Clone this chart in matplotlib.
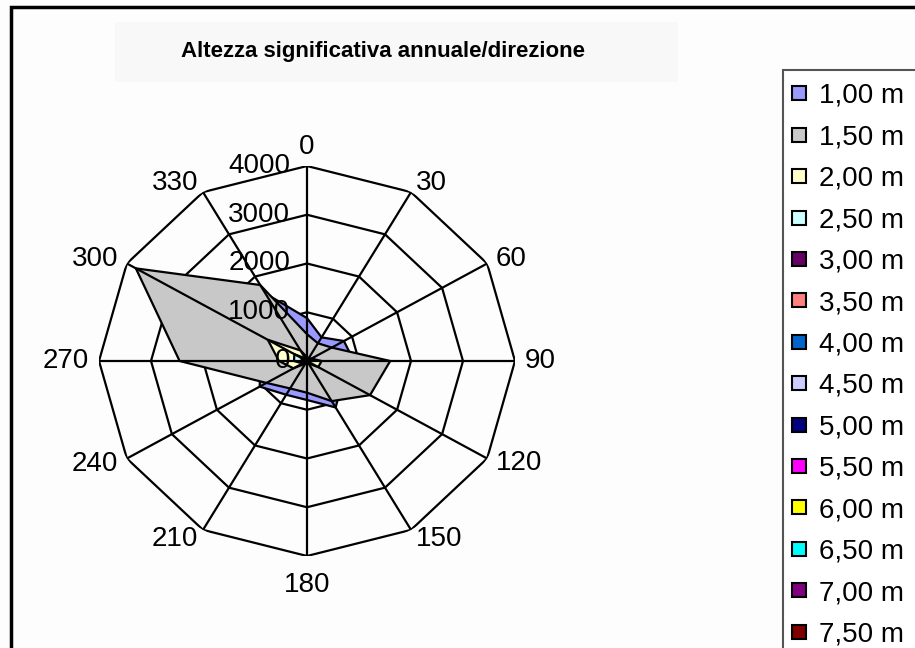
import numpy as np
import matplotlib.pyplot as plt
from matplotlib.lines import Line2D
from matplotlib.patches import Rectangle

plt.rcParams['font.family'] = ['Liberation Sans', 'DejaVu Sans']

# direzioni (gradi) e anelli della griglia
directions = [0, 30, 60, 90, 120, 150, 180, 210, 240, 270, 300, 330]
rings = [1000, 2000, 3000, 4000]
r_labels = [0, 1000, 2000, 3000, 4000]

series_labels = ['1,00 m', '1,50 m', '2,00 m', '2,50 m', '3,00 m', '3,50 m', '4,00 m',
                 '4,50 m', '5,00 m', '5,50 m', '6,00 m', '6,50 m', '7,00 m', '7,50 m']
series_colors = ['#9999FF', '#C8C8C8', '#FFFFCC', '#CCFFFF', '#660066', '#FF8080', '#0066CC',
                 '#CCCCFF', '#000080', '#FF00FF', '#FFFF00', '#00FFFF', '#800080', '#800000']

# valori (ore/anno per direzione)
h100 = [880, 560, 820, 900, 800, 1100, 800, 800, 1050, 900, 1300, 1600]
h150 = [550, 420, 550, 1600, 1400, 950, 650, 650, 900, 2450, 3800, 1800]
h200 = [80, 60, 100, 280, 250, 60, 50, 60, 300, 540, 870, 250]
h250 = [30, 20, 20, 40, 30, 20, 20, 20, 100, 250, 280, 60]
h300 = [20, 10, 10, 20, 10, 10, 10, 10, 40, 100, 120, 30]
h350 = [10, 5, 5, 10, 5, 5, 5, 5, 20, 40, 60, 15]
h400 = [5, 0, 0, 5, 0, 0, 0, 0, 10, 20, 30, 5]
h450 = [0, 0, 0, 0, 0, 0, 0, 0, 5, 10, 15, 0]
h500 = [0, 0, 0, 0, 0, 0, 0, 0, 0, 5, 10, 0]
h550 = [0, 0, 0, 0, 0, 0, 0, 0, 0, 0, 5, 0]
h600 = [0] * 12
h650 = [0] * 12
h700 = [0] * 12
h750 = [0] * 12
all_series = [h100, h150, h200, h250, h300, h350, h400,
              h450, h500, h550, h600, h650, h700, h750]

W, H = 915, 648
fig = plt.figure(figsize=(W / 100, H / 100), dpi=100)
fig.patch.set_facecolor('#fdfdfd')

# cornice del grafico (tagliata a destra e in basso)
fig.add_artist(Rectangle((11 / W, -0.2), 1.2, 1 - 7 / H + 0.2, transform=fig.transFigure,
                         fill=False, edgecolor='black', lw=2.5, clip_on=False))
# riquadro del titolo
fig.add_artist(Rectangle((115 / W, 1 - 82 / H), 563 / W, 60 / H, transform=fig.transFigure,
                         facecolor='#f8f8f8', edgecolor='none'))
fig.text(383 / W, 1 - 51 / H, 'Altezza significativa annuale/direzione',
         ha='center', va='center', fontsize=16, fontweight='bold')

# radar
cx, cy, rx, ry = 307, 361, 208, 195
ax = fig.add_axes([(cx - rx) / W, (H - cy - ry) / H, 2 * rx / W, 2 * ry / H], projection='polar')
ax.set_aspect('auto')
ax.set_theta_zero_location('N')
ax.set_theta_direction(-1)
ax.set_ylim(0, 4000)
ax.grid(False)
ax.set_xticks([])
ax.set_yticks([])
ax.spines['polar'].set_visible(False)
ax.patch.set_alpha(0)

th = np.deg2rad(directions)
th_closed = np.append(th, th[0])

for r in rings:
    ax.plot(th_closed, [r] * 13, color='black', lw=1.6, zorder=1)

for i, vals in enumerate(all_series):
    ax.fill(th, vals, facecolor=series_colors[i], edgecolor='black', lw=1.6, zorder=2 + i * 0.01)

for t in th:
    ax.plot([t, t], [0, 4000], color='black', lw=1.6, zorder=5)

for v in r_labels:
    ax.annotate(str(v), xy=(0, v), xytext=(-17, 0), textcoords='offset pixels',
                ha='right', va='center', fontsize=20, zorder=6)

for deg, t in zip(directions, th):
    s, c = np.sin(t), np.cos(t)
    ha = 'center' if abs(s) < 0.01 else ('left' if s > 0 else 'right')
    va = 'center'
    dy = 10 * c
    if abs(c) > 0.99:
        va = 'bottom' if c > 0 else 'top'
        dy = 6 if c > 0 else -16
    ax.annotate(str(deg), xy=(t, 4000), xytext=(10 * s, dy), textcoords='offset pixels',
                ha=ha, va=va, fontsize=20, annotation_clip=False)

# legenda (riquadro tagliato dal bordo)
fig.add_artist(Rectangle((783 / W, -0.2), 0.3, 1 - 70 / H + 0.2, transform=fig.transFigure,
                         facecolor='white', edgecolor='#555555', lw=1.5, clip_on=False))
handles = [Line2D([], [], ls='none', marker='s', markersize=10, markerfacecolor=col,
                  markeredgecolor='black', markeredgewidth=1.5) for col in series_colors]
fig.legend(handles, series_labels, loc='upper left', bbox_to_anchor=(788 / W, 1 - 83 / H),
           frameon=False, fontsize=20, labelspacing=0.555, handlelength=0.8, handletextpad=0.3,
           borderpad=0, borderaxespad=0)

fig.savefig('out.png', dpi=100, facecolor=fig.get_facecolor())
